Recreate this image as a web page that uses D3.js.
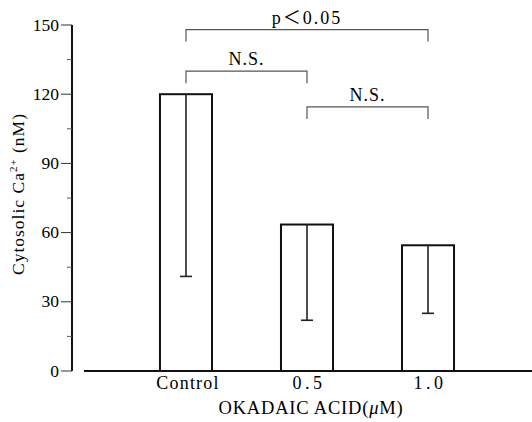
<!DOCTYPE html>
<html>
<head>
<meta charset="utf-8">
<script src="https://cdn.jsdelivr.net/npm/d3@7"></script>
<style>
  html, body { margin: 0; padding: 0; background: #fff; }
  svg { display: block; }
  text { font-family: 'Liberation Serif', 'Noto Sans CJK JP', serif; fill: #000; }
</style>
</head>
<body>
<div id="chart"></div>
<script>
// data
const categories = ['Control', '0.5', '1.0'];
const means = [120, 63.5, 54.5];
const sds = [79, 41.5, 29.5];
const yTicks = [0, 30, 60, 90, 120, 150];
const yMinorTicks = [15, 45, 75, 105, 135];
// significance brackets: from bar, to bar, label, level (nM)
const cmpFrom = [0, 0, 1];
const cmpTo = [2, 1, 2];
const cmpLabels = ['p\uFF1C0.05', 'N.S.', 'N.S.'];
const cmpLevels = [148, 130, 114.5];

const width = 532, height = 422;

const svg = d3.select('#chart').append('svg')
  .attr('width', width)
  .attr('height', height);

const y = d3.scaleLinear().domain([0, 150]).range([371, 25]);
const x = d3.scaleBand()
  .domain(categories)
  .range([91, 523])
  .padding(0.57);

const cx = i => x(categories[i]) + x.bandwidth() / 2;

// y axis
const yAxis = svg.append('g').attr('transform', 'translate(72,0)');
yAxis.append('line')
  .attr('x1', 0).attr('x2', 0)
  .attr('y1', y(150)).attr('y2', y(0))
  .attr('stroke', '#111').attr('stroke-width', 2);
yAxis.selectAll('line.major')
  .data(yTicks)
  .join('line')
    .attr('class', 'major')
    .attr('x1', -11).attr('x2', 0)
    .attr('y1', d => y(d)).attr('y2', d => y(d))
    .attr('stroke', '#333').attr('stroke-width', 1);
yAxis.selectAll('line.minor')
  .data(yMinorTicks)
  .join('line')
    .attr('class', 'minor')
    .attr('x1', -5).attr('x2', 0)
    .attr('y1', d => y(d)).attr('y2', d => y(d))
    .attr('stroke', '#555').attr('stroke-width', 1);
yAxis.selectAll('text')
  .data(yTicks)
  .join('text')
    .attr('x', -13)
    .attr('y', d => y(d) + 5.5)
    .attr('text-anchor', 'end')
    .attr('font-size', 17.5)
    .text(d => d);

// x axis baseline
svg.append('line')
  .attr('x1', 84).attr('x2', width)
  .attr('y1', y(0)).attr('y2', y(0))
  .attr('stroke', '#111').attr('stroke-width', 2);

// bars
svg.append('g')
  .selectAll('rect')
  .data(means)
  .join('rect')
    .attr('x', (d, i) => x(categories[i]))
    .attr('y', d => y(d))
    .attr('width', x.bandwidth())
    .attr('height', d => y(0) - y(d))
    .attr('fill', 'none')
    .attr('stroke', '#111')
    .attr('stroke-width', 2);

// error bars (downward SD)
const err = svg.append('g').attr('stroke', '#222').attr('stroke-width', 1.6);
err.selectAll('line.stem')
  .data(means)
  .join('line')
    .attr('class', 'stem')
    .attr('x1', (d, i) => cx(i)).attr('x2', (d, i) => cx(i))
    .attr('y1', d => y(d)).attr('y2', (d, i) => y(d - sds[i]));
err.selectAll('line.cap')
  .data(means)
  .join('line')
    .attr('class', 'cap')
    .attr('x1', (d, i) => cx(i) - 6).attr('x2', (d, i) => cx(i) + 6)
    .attr('y1', (d, i) => y(d - sds[i])).attr('y2', (d, i) => y(d - sds[i]));

// category labels
svg.append('g')
  .selectAll('text')
  .data(categories)
  .join('text')
    .attr('x', (d, i) => cx(i) + 2)
    .attr('y', 389)
    .attr('text-anchor', 'middle')
    .attr('font-size', 18)
    .attr('letter-spacing', d => d === 'Control' ? 1.2 : 3.5)
    .text(d => d);

// x axis title
const xt = svg.append('text')
  .attr('x', 311)
  .attr('y', 414)
  .attr('text-anchor', 'middle')
  .attr('font-size', 18.5)
  .attr('letter-spacing', 0.8);
xt.append('tspan').text('OKADAIC ACID(');
xt.append('tspan').attr('font-style', 'italic').text('\u03BC');
xt.append('tspan').text('M)');

// y axis title
const yt = svg.append('text')
  .attr('transform', 'translate(24,194) rotate(-90)')
  .attr('text-anchor', 'middle')
  .attr('font-size', 17.5)
  .attr('letter-spacing', 1);
yt.append('tspan').text('Cytosolic Ca');
yt.append('tspan').attr('font-size', 11).attr('dy', -7).text('2+');
yt.append('tspan').attr('dy', 7).text(' (nM)');

// significance brackets
const br = svg.append('g');
cmpLabels.forEach((label, k) => {
  const x1 = cx(cmpFrom[k]), x2 = cx(cmpTo[k]), yy = y(cmpLevels[k]);
  br.append('path')
    .attr('d', `M${x1},${yy + 12}V${yy}H${x2}V${yy + 12}`)
    .attr('fill', 'none')
    .attr('stroke', '#555')
    .attr('stroke-width', 1.2);
  br.append('text')
    .attr('x', (x1 + x2) / 2)
    .attr('y', yy - 6)
    .attr('text-anchor', 'middle')
    .attr('font-size', 18)
    .attr('letter-spacing', label === 'N.S.' ? 1 : 2)
    .text(label);
});
</script>
</body>
</html>
